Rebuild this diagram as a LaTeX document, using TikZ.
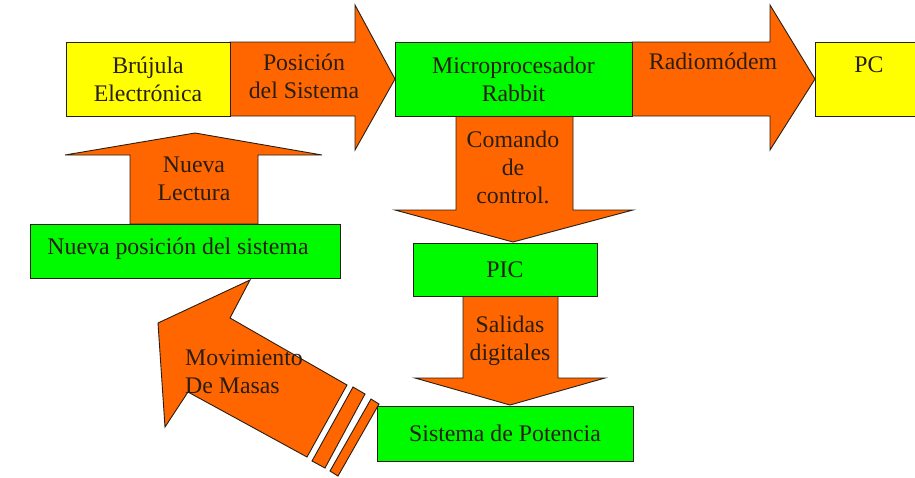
\documentclass[tikz,border=0pt]{standalone}
\usepackage{fontspec}
\setmainfont{Liberation Serif}
\definecolor{oran}{RGB}{255,102,0}
\definecolor{grn}{RGB}{0,250,0}
\definecolor{yel}{RGB}{255,255,0}
\definecolor{ink}{RGB}{40,30,20}
\begin{document}
\begin{tikzpicture}[x=1pt,y=-1pt,line join=miter,
  box/.style={draw=ink, line width=0.9pt, inner sep=0pt, outer sep=0pt, align=center,
    font=\fontsize{23.8}{28}\selectfont, text=ink},
  arr/.style={fill=oran, draw=ink, line width=0.9pt},
  lbl/.style={align=center, inner sep=0pt, font=\fontsize{23.8}{28}\selectfont, text=ink}]
\useasboundingbox (0,0) rectangle (915,477);
\fill[white] (0,0) rectangle (915,477);
% block arrows
\draw[arr] (230,42) -- (355,42) -- (355,5) -- (395,79) -- (355,150) -- (355,116) -- (230,116) -- cycle;
\draw[arr] (632,42) -- (770,42) -- (770,5) -- (815,79) -- (770,150) -- (770,116) -- (632,116) -- cycle;
\draw[arr] (456,116) -- (456,210) -- (395,210) -- (513,242) -- (633,210) -- (573,210) -- (573,116) -- cycle;
\draw[arr] (463,296) -- (463,378) -- (415,378) -- (510,405) -- (605,378) -- (558,378) -- (558,296) -- cycle;
\draw[arr] (130,224) -- (130,155) -- (65,155) -- (195,133) -- (322,155) -- (258,155) -- (258,224) -- cycle;
\draw[arr] (158,323) -- (250,280) -- (230,318) -- (347,385) -- (307,457) -- (188,392) -- (165,427) -- cycle;
\draw[arr] (353,387) -- (365,394) -- (325,468) -- (312,461) -- cycle;
\draw[arr] (371,399) -- (379,404) -- (338,476) -- (330,471) -- cycle;
% boxes
\node[box, fill=yel, minimum width=164pt, minimum height=74pt] (bruj) at (148,79) {Brújula\\Electrónica};
\node[box, fill=grn, minimum width=237pt, minimum height=74pt] (micro) at (513.5,79) {Microprocesador\\Rabbit};
\node[box, fill=yel, minimum width=103pt, minimum height=74pt] (pc) at (866.5,79) {};
\node[lbl] (pct) at (869,65) {PC};
\node[box, fill=grn, minimum width=184pt, minimum height=53pt] (pic) at (505,269.5) {PIC};
\node[box, fill=grn, minimum width=256pt, minimum height=55pt] (sdp) at (505,433.5) {Sistema de Potencia};
\node[box, fill=grn, minimum width=310pt, minimum height=54pt] (nps) at (185,251) {};
\node[lbl] (npst) at (178,249) {Nueva posición del sistema};
% arrow labels
\node[lbl] (posl) at (304,76) {Posición\\del Sistema};
\node[lbl] (radl) at (713,61) {Radiomódem};
\node[lbl] (coml) at (513,167) {Comando\\de\\control.};
\node[lbl] (sall) at (510,341) {Salidas\\digitales};
\node[lbl] (nuel) at (194,179) {Nueva\\Lectura};
\node[lbl, align=left, anchor=west] (movl) at (185,372) {Movimiento\\De Masas};
\end{tikzpicture}
\end{document}
